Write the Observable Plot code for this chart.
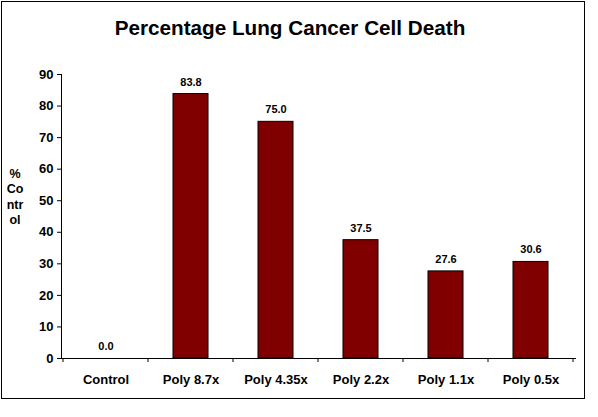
<!DOCTYPE html>
<html>
<head>
<meta charset="utf-8">
<script src="https://cdn.jsdelivr.net/npm/d3@7"></script>
<script src="https://cdn.jsdelivr.net/npm/@observablehq/plot@0.6"></script>
<style>
  html, body { margin: 0; padding: 0; background: #fff; }
  svg { display: block; }
</style>
</head>
<body>
<div id="chart"></div>
<script>
const categories = ["Control", "Poly 8.7x", "Poly 4.35x", "Poly 2.2x", "Poly 1.1x", "Poly 0.5x"];
const values = [0.0, 83.8, 75.0, 37.5, 27.6, 30.6];
const yTicks = [0, 10, 20, 30, 40, 50, 60, 70, 80, 90];
const titleText = "Percentage Lung Cancer Cell Death";
const yLabelLines = ["%", "Co", "ntr", "ol"];

const data = categories.map((c, i) => ({category: c, value: values[i]}));
const font = "'Liberation Sans', Arial, sans-serif";

const plot = Plot.plot({
  width: 598,
  height: 417,
  marginLeft: 61,
  marginRight: 23,
  marginTop: 74,
  marginBottom: 59,
  style: {fontFamily: font, background: "#fff", color: "#000", overflow: "visible"},
  x: {domain: categories, paddingInner: 0.59, paddingOuter: 0.295, label: null},
  y: {domain: [0, 90], label: null},
  marks: [
    Plot.barY(data, {x: "category", y: "value", fill: "#800000", stroke: "#000", strokeWidth: 1}),
    Plot.frame({anchor: "left", stroke: "#000", strokeOpacity: 1}),
    Plot.frame({anchor: "bottom", stroke: "#000", strokeOpacity: 1}),
    Plot.axisY({ticks: yTicks, tickSize: 4, tickPadding: 4, label: null,
      fontSize: 13, fontWeight: "bold", tickFormat: d => String(d), stroke: "#000", strokeOpacity: 1}),
    Plot.axisX({tickSize: 0, tickPadding: 16, label: null, fontSize: 13, fontWeight: "bold"}),
    Plot.text(data, {x: "category", y: "value", text: d => d.value.toFixed(1),
      dy: -12, fontSize: 11, fontWeight: "bold", fill: "#000"})
  ]
});

const svg = d3.select(plot);
const xs = plot.scale("x");
const ys = plot.scale("y");
const gap = (xs.step - xs.bandwidth) / 2;
const y0 = ys.apply(0);
const bounds = categories.map(c => xs.apply(c) - gap);
bounds.push(xs.apply(categories[categories.length - 1]) + xs.bandwidth + gap);
svg.append("g").attr("stroke", "#000").selectAll("line").data(bounds).join("line")
  .attr("x1", d => d).attr("x2", d => d).attr("y1", y0).attr("y2", y0 + 4);

// chart border
svg.append("rect").attr("x", 1.5).attr("y", 1.5).attr("width", 583).attr("height", 397)
  .attr("fill", "none").attr("stroke", "#000").attr("stroke-width", 1);

// title
svg.append("text").attr("x", 290).attr("y", 35).attr("text-anchor", "middle")
  .attr("font-family", font).attr("font-weight", "bold").attr("font-size", 20.7)
  .attr("fill", "#000").text(titleText);

// y axis label
const yl = svg.append("text").attr("font-family", font).attr("font-weight", "bold")
  .attr("font-size", 12.5).attr("fill", "#000");
yLabelLines.forEach((t, i) => {
  yl.append("tspan").attr("x", 15).attr("y", 177.5 + i * 15.5).text(t);
});

document.getElementById("chart").appendChild(plot);
</script>
</body>
</html>
